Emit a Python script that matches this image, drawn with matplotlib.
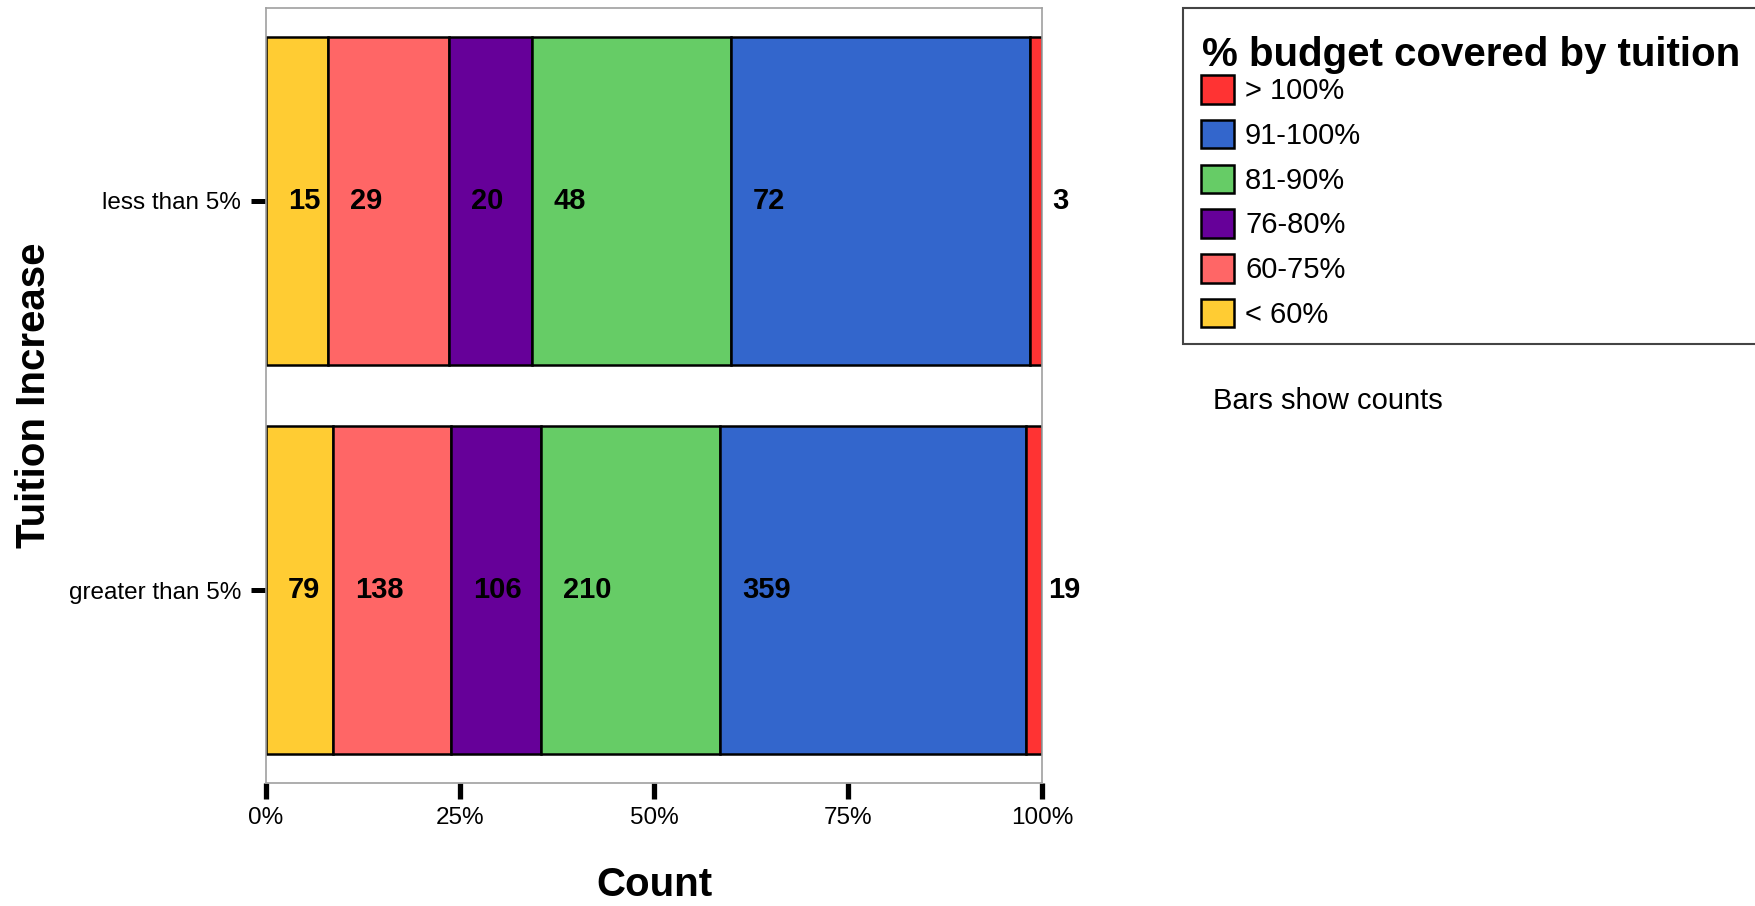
import matplotlib
matplotlib.use("Agg")
import matplotlib.pyplot as plt
import numpy as np
from matplotlib.patches import Patch, Rectangle
from matplotlib.ticker import PercentFormatter

plt.rcParams["font.family"] = ["Liberation Sans", "DejaVu Sans"]

# data (stacking order, left to right)
groups = ["less than 5%", "greater than 5%"]
categories = ["< 60%", "60-75%", "76-80%", "81-90%", "91-100%", "> 100%"]
colors = ["#FFCC33", "#FF6666", "#660099", "#66CC66", "#3366CC", "#FF3333"]
counts_less = [15, 29, 20, 48, 72, 3]
counts_greater = [79, 138, 106, 210, 359, 19]
x_ticks = [0, 0.25, 0.5, 0.75, 1.0]

counts = np.array([counts_less, counts_greater], dtype=float)
shares = counts / counts.sum(axis=1, keepdims=True)
starts = np.cumsum(shares, axis=1) - shares

W, H = 1756, 906
fig = plt.figure(figsize=(W / 100, H / 100), dpi=100)
ax = fig.add_axes([266 / W, 1 - 783 / H, 776 / W, 775 / H])

y = np.arange(len(groups))
for j, cat in enumerate(categories):
    ax.barh(y, shares[:, j], left=starts[:, j], height=0.843,
            color=colors[j], edgecolor="black", linewidth=1.8, zorder=2)
    for i in range(len(groups)):
        ax.annotate(f"{int(counts[i, j])}", xy=(starts[i, j], y[i]),
                    xytext=(16, 0), textcoords="offset points",
                    ha="left", va="center", fontsize=21, fontweight="bold",
                    annotation_clip=False, zorder=3)

ax.set_xlim(0, 1)
ax.set_ylim(1.496, -0.496)
ax.set_yticks(y)
ax.set_yticklabels(groups)
ax.set_xticks(x_ticks)
ax.xaxis.set_major_formatter(PercentFormatter(xmax=1, decimals=0))

for side in ["top", "right", "left", "bottom"]:
    ax.spines[side].set_color("#A0A0A0")
    ax.spines[side].set_linewidth(1.2)

ax.tick_params(axis="x", length=11.5, width=3.8, color="black",
               labelsize=17.5, pad=6)
ax.tick_params(axis="y", length=11, width=3.6, color="black",
               labelsize=17.5, pad=7)

fig.text(34 / W, 1 - 395 / H, "Tuition Increase", rotation=90,
         ha="center", va="center", fontsize=29, fontweight="bold")
fig.text(654 / W, 1 - 885 / H, "Count",
         ha="center", va="center", fontsize=29, fontweight="bold")

# legend box: frame, title and entries placed separately
fig.add_artist(Rectangle((1183 / W, 1 - 344 / H), 580 / W, 336 / H,
                         transform=fig.transFigure, facecolor="white",
                         edgecolor="#444444", linewidth=1.5))
fig.text(1202 / W, 1 - 55 / H, "% budget covered by tuition",
         ha="left", va="center", fontsize=29, fontweight="bold")

handles = [Patch(facecolor=colors[j], edgecolor="black", linewidth=1.8,
                 label=categories[j]) for j in reversed(range(len(categories)))]
fig.legend(handles=handles, loc="upper left",
           bbox_to_anchor=(1201 / W, 1 - 75 / H),
           bbox_transform=fig.transFigure, borderaxespad=0, borderpad=0,
           fontsize=21, handlelength=1.13, handleheight=1.13,
           handletextpad=0.38, labelspacing=0.5, frameon=False)

fig.text(1213 / W, 1 - 401 / H, "Bars show counts",
         ha="left", va="center", fontsize=21)

fig.savefig("out.png", dpi=100)
